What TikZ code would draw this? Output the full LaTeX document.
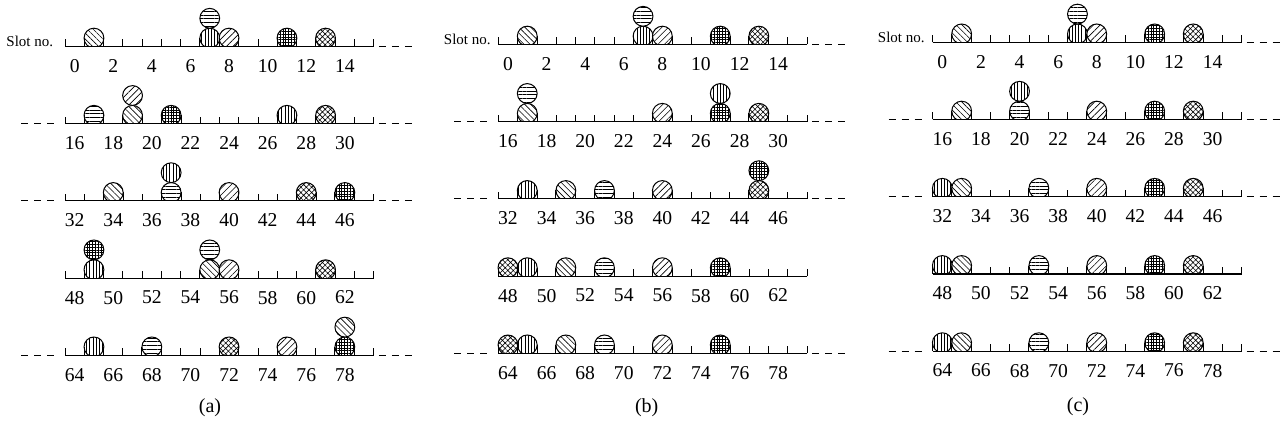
\documentclass[tikz,border=0pt]{standalone}
\usepackage{fontspec}
\setmainfont{Liberation Serif}
\usetikzlibrary{patterns.meta}
\def\SL{19.3}
\def\RB{9.9}
\def\HB{8.4}
\tikzset{
  axisline/.style={line width=0.6pt},
  tickline/.style={line width=0.5pt},
  ball/.style={line width=0.5pt},
  dsh/.style={line width=0.6pt, dash pattern=on 3.5pt off 3pt},
  lab/.style={font=\fontsize{9.8}{11}\selectfont, inner sep=0pt},
  captionlab/.style={font=\fontsize{10}{12}\selectfont, inner sep=0pt},
  slotlab/.style={font=\fontsize{7.5}{9}\selectfont, inner sep=0pt, anchor=base east},
  pB/.style={pattern={Lines[angle=-45,distance=2.1pt,line width=0.3pt]}},
  pF/.style={pattern={Lines[angle=45,distance=2.3pt,line width=0.3pt]}},
  pV/.style={pattern={Lines[angle=90,distance=1.6pt,line width=0.3pt]}},
  pH/.style={pattern={Lines[angle=0,distance=1.9pt,line width=0.3pt]}},
  pG/.style={pattern={Hatch[angle=0,distance=1.4pt,line width=0.3pt]}},
  pX/.style={pattern={Hatch[angle=45,distance=1.9pt,line width=0.3pt]}},
}
\newcommand\lowball[4]{%
  \pgfmathsetmacro\cx{#1+(#3+0.5)*\SL}%
  \begin{scope}
    \clip (\cx-\RB-1,#2) rectangle (\cx+\RB+1,#2+25);
    \fill[white] (\cx-\RB,#2) rectangle (\cx+\RB,#2+\HB);
    \path[#4, preaction={fill=white}] (\cx,#2+\HB) circle[radius=\RB];
    \draw[ball] (\cx,#2+\HB) circle[radius=\RB];
  \end{scope}
  \draw[ball] (\cx-\RB,#2) -- (\cx-\RB,#2+\HB) (\cx+\RB,#2) -- (\cx+\RB,#2+\HB);
}
\newcommand\upball[4]{%
  \pgfmathsetmacro\cx{#1+(#3+0.5)*\SL}%
  \draw[ball,#4,preaction={fill=white}] (\cx,#2+\HB+2*\RB) circle[radius=\RB];
}
% #1 x0, #2 y (px from top), #3 first slot, #4 ticks, #5 balls, #6 left dash, #7 right dash, #8 id
\newcommand\slotrow[8]{%
  \pgfmathsetmacro\Y{429-#2}%
  \foreach \t in {#4} {\draw[tickline] (#1+\t*\SL,\Y) -- ++(0,7);}
  \foreach \s/\p/\l in {#5} {%
    \ifnum\l=0 \lowball{#1}{\Y}{\s}{\p}\else \upball{#1}{\Y}{\s}{\p}\fi}
  \draw[axisline] (#1,\Y) -- (#1+16*\SL,\Y);
  \foreach \j in {0,...,7} {%
    \pgfmathtruncatemacro\n{#3+2*\j}%
    \node[lab] (n#8-\j) at (#1+2*\j*\SL+0.5*\SL,\Y-19.5) {\n};}
  \ifnum#6=1 \draw[dsh] (#1-44,\Y) -- (#1-11,\Y);\fi
  \ifnum#7=1 \draw[dsh] (#1+16*\SL+5,\Y) -- (#1+16*\SL+38,\Y);\fi
}
\begin{document}
\begin{tikzpicture}[x=0.5pt,y=0.5pt]
\fill[white] (0,0) rectangle (1285,429);
\useasboundingbox (0,0) rectangle (1285,429);
% ---------- panel (a)
\def\XA{65}
\slotrow{\XA}{46.5}{0}{0,3,4,5,6,10,15,16}{1/pB/0,7/pV/0,7/pH/1,8/pF/0,11/pG/0,13/pX/0}{0}{1}{a0}
\slotrow{\XA}{123.7}{16}{0,7,8,9,10,15,16}{1/pH/0,3/pB/0,3/pF/1,5/pG/0,11/pV/0,13/pX/0}{1}{1}{a1}
\slotrow{\XA}{200.9}{32}{0,1,4,7,10,11,16}{2/pB/0,5/pH/0,5/pV/1,8/pF/0,12/pX/0,14/pG/0}{1}{1}{a2}
\slotrow{\XA}{278.1}{48}{0,3,4,5,6,10,11,12,15,16}{1/pV/0,1/pG/1,7/pB/0,7/pH/1,8/pF/0,13/pX/0}{0}{0}{a3}
\slotrow{\XA}{355.3}{64}{0,3,6,7,10,13,16}{1/pV/0,4/pH/0,8/pX/0,11/pF/0,14/pG/0,14/pB/1}{1}{1}{a4}
\node[slotlab] (sa) at (53.5,429-46.5) {Slot no.};
\node[captionlab] (ca) at (210,21) {(a)};
% ---------- panel (b)
\def\XB{498.3}
\slotrow{\XB}{44.5}{0}{0,3,4,5,6,10,15,16}{1/pB/0,7/pV/0,7/pH/1,8/pF/0,11/pG/0,13/pX/0}{0}{1}{b0}
\slotrow{\XB}{121.7}{16}{0,3,4,5,6,7,10,15,16}{1/pB/0,1/pH/1,8/pF/0,11/pG/0,11/pV/1,13/pX/0}{1}{1}{b1}
\slotrow{\XB}{198.9}{32}{0,7,10,11,12,15,16}{1/pV/0,3/pB/0,5/pH/0,8/pF/0,13/pX/0,13/pG/1}{1}{1}{b2}
\slotrow{\XB}{276.1}{48}{7,10,13,14,15,16}{0/pX/0,1/pV/0,3/pB/0,5/pH/0,8/pF/0,11/pG/0}{0}{0}{b3}
\slotrow{\XB}{353.3}{64}{7,10,13,14,15,16}{0/pX/0,1/pV/0,3/pB/0,5/pH/0,8/pF/0,11/pG/0}{1}{1}{b4}
\node[slotlab] (sb) at (491,429-44.5) {Slot no.};
\node[captionlab] (cb) at (646.7,21) {(b)};
% ---------- panel (c)
\def\XC{932.7}
\slotrow{\XC}{42.3}{0}{0,3,4,5,6,10,15,16}{1/pB/0,7/pV/0,7/pH/1,8/pF/0,11/pG/0,13/pX/0}{0}{1}{c0}
\slotrow{\XC}{119.5}{16}{0,3,6,7,10,15,16}{1/pB/0,4/pH/0,4/pV/1,8/pF/0,11/pG/0,13/pX/0}{1}{1}{c1}
\slotrow{\XC}{196.7}{32}{3,4,7,10,15,16}{0/pV/0,1/pB/0,5/pH/0,8/pF/0,11/pG/0,13/pX/0}{1}{1}{c2}
\slotrow{\XC}{273.9}{48}{3,4,7,10,15,16}{0/pV/0,1/pB/0,5/pH/0,8/pF/0,11/pG/0,13/pX/0}{0}{0}{c3}
\slotrow{\XC}{351.1}{64}{3,4,7,10,15,16}{0/pV/0,1/pB/0,5/pH/0,8/pF/0,11/pG/0,13/pX/0}{1}{1}{c4}
\node[slotlab] (sc) at (925,429-42.3) {Slot no.};
\node[captionlab] (cc) at (1078,22) {(c)};
\end{tikzpicture}
\end{document}
